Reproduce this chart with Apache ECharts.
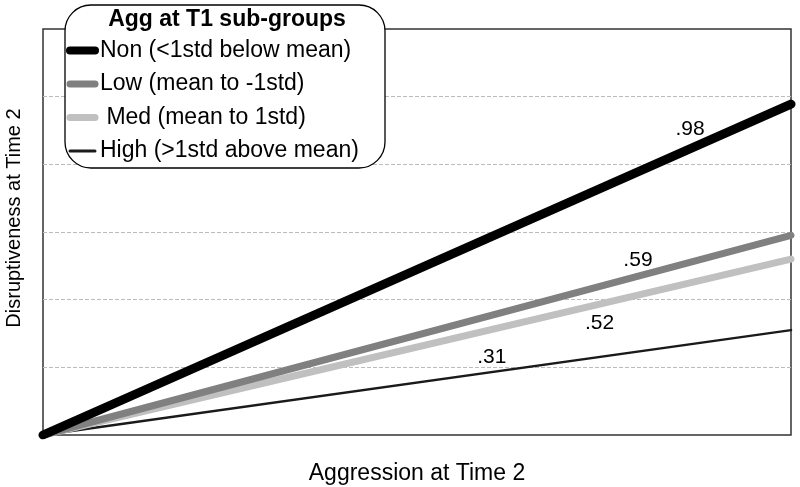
<!DOCTYPE html>
<html>
<head>
<meta charset="utf-8">
<script src="https://cdn.jsdelivr.net/npm/echarts@6/dist/echarts.min.js"></script>
<style>html,body{margin:0;padding:0;background:#fff}#c{width:800px;height:487px}</style>
</head>
<body>
<div id="c"></div>
<script>
// Data
var xValues = [0, 5];
var seriesNames = ['Non (<1std below mean)', 'Low (mean to -1std)', ' Med (mean to 1std)', 'High (>1std above mean)'];
var nonValues = [0, 4.89];
var lowValues = [0, 2.95];
var medValues = [0, 2.60];
var highValues = [0, 1.55];
var slopeLabels = ['.98', '.59', '.52', '.31'];
var labelX = [4.325, 3.977, 3.72, 3.0];
var labelY = [4.52, 2.586, 1.655, 1.153];
var yTicks = [0, 1, 2, 3, 4, 5, 6];

var FONT = '"Liberation Sans", Arial, sans-serif';
var colors = ['#000000', '#808080', '#c0c0c0', '#1a1a1a'];
var widths = [9, 7, 7, 2.5];
var legendWidths = [8, 7, 7, 3];
var valueSets = [nonValues, lowValues, medValues, highValues];

function pairs(xs, ys) { return xs.map(function (x, i) { return [x, ys[i]]; }); }

var series = seriesNames.map(function (n, i) {
  return {
    name: n, type: 'line', data: pairs(xValues, valueSets[i]),
    symbol: 'none', silent: true, z: 4 - i + 2,
    lineStyle: { color: colors[i], width: widths[i], cap: 'round' },
    itemStyle: { color: colors[i] }
  };
});
series.push({
  type: 'scatter', symbolSize: 0, silent: true, z: 10,
  itemStyle: { opacity: 0 },
  data: labelX.map(function (x, i) { return { value: [x, labelY[i]], label: { formatter: slopeLabels[i] } }; }),
  label: { show: true, position: 'inside', color: '#000', opacity: 1, fontSize: 21, fontFamily: FONT }
});

var legendData = seriesNames.map(function (n, i) {
  return {
    name: n,
    lineStyle: { width: legendWidths[i], color: colors[i], cap: 'round' },
    itemStyle: { opacity: 0 }
  };
});

var chart = echarts.init(document.getElementById('c'), null, { renderer: 'canvas' });
chart.setOption({
  animation: false,
  backgroundColor: '#fff',
  title: {
    text: 'Agg at T1 sub-groups', left: 227, textAlign: 'center', top: 8, padding: 0, z: 20,
    textStyle: { fontSize: 23, fontWeight: 'bold', color: '#000', fontFamily: FONT }
  },
  graphic: [{
    type: 'rect', z: 5,
    shape: { x: 65, y: 5, width: 320, height: 163, r: 26 },
    style: { fill: '#fff', stroke: '#000', lineWidth: 1.3 }
  }],
  legend: {
    data: legendData, orient: 'vertical', left: 66, top: 39, padding: 0, z: 20,
    itemWidth: 25, itemHeight: 14, itemGap: 10.5,
    textStyle: { fontSize: 23, color: '#000', fontFamily: FONT }
  },
  grid: { left: 43, right: 9, top: 29, bottom: 52, outerBoundsMode: 'none', containLabel: false, show: true, borderColor: '#333', borderWidth: 1.5 },
  xAxis: {
    type: 'value', min: xValues[0], max: xValues[xValues.length - 1],
    name: 'Aggression at Time 2', nameLocation: 'middle', nameGap: 27,
    nameTextStyle: { fontSize: 23, color: '#000', fontFamily: FONT },
    axisLine: { show: false }, axisTick: { show: false }, axisLabel: { show: false }, splitLine: { show: false }
  },
  yAxis: {
    type: 'value', min: yTicks[0], max: yTicks[yTicks.length - 1], interval: 1,
    name: 'Disruptiveness at Time 2', nameLocation: 'middle', nameGap: 19,
    nameTextStyle: { fontSize: 20, color: '#000', fontFamily: FONT, padding: [0, 0, 0, 28] },
    axisLine: { show: false }, axisTick: { show: false }, axisLabel: { show: false },
    splitLine: { show: true, showMinLine: false, showMaxLine: false, lineStyle: { color: '#bbb', type: 'dashed', width: 1 } }
  },
  series: series
});
</script>
</body>
</html>
